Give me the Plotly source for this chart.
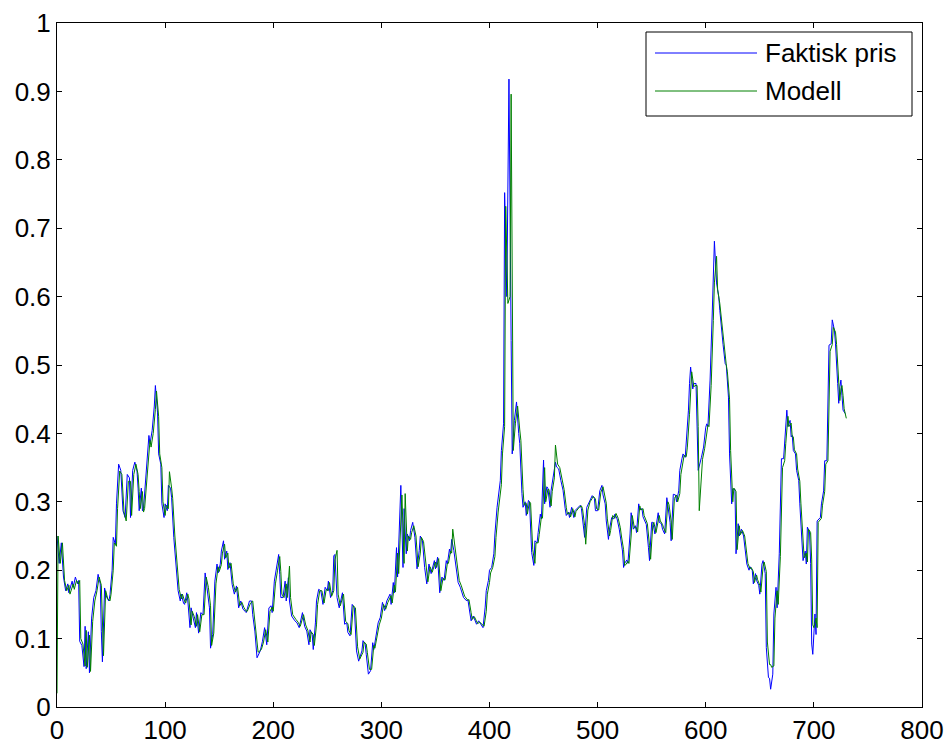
import plotly.graph_objects as go

actual_x = [0, 2, 4, 6, 8, 10, 11, 14, 15, 17, 19, 20, 21, 23, 25, 26, 27, 29, 30, 32, 34, 36, 38, 40, 41, 42, 44, 46, 48, 49,
            51, 52, 54, 55, 57, 59, 61, 63, 65, 67, 68, 70, 72, 74, 75, 76, 78, 79, 80, 83, 85, 86, 88, 90, 91, 93, 94, 96, 97, 99,
            100, 102, 103, 105, 106, 108, 110, 112, 114, 115, 117, 118, 120, 121, 123, 124, 126, 128, 129, 131, 133, 135, 137, 139,
            141, 142, 144, 146, 148, 149, 151, 152, 154, 155, 157, 158, 160, 162, 164, 166, 168, 170, 172, 174, 175, 178, 180, 181,
            183, 185, 188, 190, 192, 194, 196, 198, 199, 201, 203, 205, 206, 207, 209, 211, 212, 214, 215, 217, 220, 222, 224, 227,
            229, 231, 233, 234, 236, 237, 239, 240, 242, 244, 246, 248, 250, 251, 253, 255, 256, 257, 259, 261, 264, 266, 268, 269,
            271, 273, 275, 277, 279, 282, 283, 285, 286, 288, 290, 292, 293, 295, 297, 299, 301, 303, 305, 308, 309, 311, 312, 314,
            315, 318, 320, 321, 323, 324, 326, 327, 329, 331, 333, 335, 336, 338, 340, 342, 344, 346, 349, 350, 352, 354, 356, 358,
            360, 361, 363, 364, 365, 367, 369, 371, 373, 376, 379, 380, 382, 383, 385, 388, 390, 393, 394, 396, 397, 399, 400, 402,
            404, 405, 407, 410, 411, 413, 414, 416, 418, 420, 421, 423, 425, 427, 428, 430, 431, 433, 434, 436, 437, 439, 441, 442,
            444, 445, 447, 448, 450, 451, 453, 454, 456, 457, 459, 461, 462, 464, 466, 468, 470, 471, 473, 474, 476, 478, 479, 481,
            482, 484, 485, 487, 488, 490, 492, 494, 495, 497, 498, 500, 502, 504, 505, 507, 508, 510, 511, 513, 515, 516, 518, 520,
            521, 523, 524, 525, 527, 528, 530, 531, 533, 535, 536, 538, 539, 541, 542, 545, 547, 548, 550, 551, 553, 554, 556, 557,
            559, 560, 562, 564, 565, 567, 568, 570, 572, 573, 575, 576, 578, 579, 581, 582, 584, 585, 586, 588, 589, 591, 592, 593,
            596, 598, 600, 601, 602, 604, 606, 608, 610, 612, 613, 615, 616, 618, 619, 621, 622, 624, 625, 627, 628, 630, 631, 633,
            635, 638, 640, 641, 643, 644, 646, 647, 649, 650, 652, 653, 655, 656, 658, 659, 660, 662, 663, 665, 666, 668, 670, 672,
            673, 675, 676, 678, 679, 680, 681, 683, 684, 686, 687, 689, 690, 692, 693, 694, 696, 697, 698, 699, 701, 702, 703, 706,
            707, 709, 710, 712, 713, 714, 716, 717, 719, 720, 722, 723, 724, 725, 726, 727, 729]
actual_y = [0.25, 0.21, 0.24, 0.19, 0.17, 0.18, 0.167, 0.184, 0.175, 0.19, 0.18, 0.185, 0.096, 0.09, 0.059, 0.118, 0.056, 0.11, 0.05, 0.13,
            0.16, 0.17, 0.194, 0.18, 0.11, 0.066, 0.174, 0.16, 0.155, 0.164, 0.20, 0.248, 0.238, 0.297, 0.355, 0.346, 0.287, 0.277,
            0.34, 0.335, 0.277, 0.346, 0.358, 0.345, 0.32, 0.287, 0.32, 0.287, 0.29, 0.36, 0.397, 0.385, 0.404, 0.44, 0.47, 0.43,
            0.37, 0.355, 0.297, 0.277, 0.297, 0.287, 0.324, 0.32, 0.306, 0.248, 0.213, 0.17, 0.155, 0.165, 0.152, 0.15, 0.167, 0.155,
            0.116, 0.145, 0.13, 0.116, 0.138, 0.108, 0.138, 0.135, 0.196, 0.174, 0.145, 0.086, 0.106, 0.184, 0.209, 0.196, 0.209,
            0.228, 0.243, 0.216, 0.228, 0.201, 0.211, 0.179, 0.165, 0.177, 0.145, 0.155, 0.143, 0.14, 0.138, 0.155, 0.155, 0.135,
            0.111, 0.072, 0.082, 0.096, 0.116, 0.091, 0.145, 0.148, 0.138, 0.184, 0.204, 0.223, 0.194, 0.16, 0.16, 0.184, 0.155,
            0.189, 0.155, 0.133, 0.126, 0.123, 0.116, 0.138, 0.118, 0.111, 0.091, 0.113, 0.106, 0.084, 0.123, 0.155, 0.172, 0.17,
            0.15, 0.175, 0.17, 0.184, 0.16, 0.17, 0.221, 0.223, 0.16, 0.145, 0.167, 0.121, 0.123, 0.109, 0.104, 0.15, 0.145, 0.082,
            0.067, 0.082, 0.097, 0.092, 0.077, 0.048, 0.053, 0.094, 0.084, 0.104, 0.123, 0.131, 0.153, 0.141, 0.155, 0.165, 0.15,
            0.182, 0.167, 0.233, 0.19, 0.324, 0.204, 0.29, 0.224, 0.253, 0.243, 0.258, 0.27, 0.248, 0.202, 0.229, 0.25, 0.243, 0.204,
            0.18, 0.209, 0.195, 0.214, 0.202, 0.219, 0.167, 0.19, 0.185, 0.214, 0.209, 0.231, 0.224, 0.245, 0.229, 0.209, 0.182,
            0.175, 0.16, 0.155, 0.157, 0.136, 0.126, 0.133, 0.121, 0.126, 0.119, 0.116, 0.146, 0.17, 0.185, 0.2, 0.204, 0.224, 0.253,
            0.292, 0.331, 0.375, 0.414, 0.752, 0.60, 0.918, 0.536, 0.37, 0.419, 0.446, 0.40, 0.385, 0.312, 0.292, 0.30, 0.28, 0.302,
            0.30, 0.226, 0.207, 0.243, 0.24, 0.255, 0.282, 0.275, 0.361, 0.297, 0.322, 0.32, 0.292, 0.317, 0.336, 0.358, 0.351,
            0.348, 0.331, 0.317, 0.29, 0.28, 0.285, 0.277, 0.292, 0.277, 0.287, 0.29, 0.292, 0.295, 0.29, 0.263, 0.248, 0.292, 0.30,
            0.307, 0.309, 0.305, 0.287, 0.287, 0.316, 0.324, 0.31, 0.297, 0.272, 0.245, 0.26, 0.277, 0.275, 0.282, 0.275, 0.26,
            0.248, 0.228, 0.204, 0.21, 0.215, 0.21, 0.253, 0.284, 0.26, 0.265, 0.255, 0.297, 0.288, 0.29, 0.278, 0.267, 0.233, 0.214,
            0.27, 0.27, 0.253, 0.263, 0.284, 0.27, 0.268, 0.26, 0.253, 0.306, 0.296, 0.27, 0.243, 0.311, 0.31, 0.30, 0.316, 0.346,
            0.363, 0.37, 0.365, 0.385, 0.434, 0.473, 0.497, 0.465, 0.473, 0.473, 0.404, 0.346, 0.365, 0.38, 0.409, 0.414, 0.41,
            0.478, 0.576, 0.681, 0.62, 0.60, 0.58, 0.537, 0.53, 0.502, 0.50, 0.453, 0.37, 0.297, 0.319, 0.318, 0.224, 0.268, 0.25,
            0.26, 0.25, 0.209, 0.2, 0.205, 0.2, 0.18, 0.195, 0.185, 0.178, 0.165, 0.209, 0.214, 0.195, 0.087, 0.043, 0.042, 0.026,
            0.048, 0.136, 0.175, 0.145, 0.224, 0.363, 0.363, 0.39, 0.434, 0.41, 0.419, 0.395, 0.397, 0.375, 0.37, 0.346, 0.331,
            0.297, 0.243, 0.214, 0.228, 0.209, 0.263, 0.256, 0.21, 0.092, 0.077, 0.136, 0.106, 0.272, 0.277, 0.297, 0.316, 0.36,
            0.36, 0.439, 0.529, 0.531, 0.566, 0.551, 0.531, 0.473, 0.444, 0.468, 0.478, 0.455, 0.434, 0.429]

# Modell - vertices
model_x = [0, 1, 3, 5, 7, 9, 11, 12, 15, 16, 18, 20, 21, 22, 24, 26, 27, 28, 30, 31, 33, 35, 37, 39, 41, 42, 43, 45, 47, 49,
           50, 52, 53, 55, 56, 58, 60, 62, 64, 66, 68, 69, 71, 73, 75, 76, 77, 79, 80, 81, 84, 86, 87, 89, 91, 92, 94, 95, 97, 98,
           100, 101, 103, 104, 106, 107, 109, 111, 113, 115, 116, 118, 119, 121, 122, 124, 125, 127, 129, 130, 132, 134, 136, 138,
           140, 142, 143, 145, 147, 149, 150, 152, 153, 155, 156, 158, 159, 161, 163, 165, 167, 169, 171, 173, 175, 176, 179, 181,
           182, 184, 186, 189, 191, 193, 195, 197, 199, 200, 202, 204, 206, 207, 208, 210, 212, 213, 215, 216, 218, 221, 223, 225,
           228, 230, 232, 234, 235, 237, 238, 240, 241, 243, 245, 247, 249, 251, 252, 254, 256, 257, 259, 260, 262, 265, 267, 269,
           270, 272, 274, 276, 278, 280, 283, 284, 286, 287, 289, 291, 293, 294, 296, 298, 300, 302, 304, 306, 309, 310, 312, 313,
           315, 316, 319, 321, 322, 324, 325, 327, 328, 330, 332, 334, 336, 337, 339, 341, 343, 345, 347, 350, 351, 353, 355, 357,
           359, 361, 362, 364, 365, 366, 368, 370, 372, 374, 377, 380, 381, 383, 384, 386, 389, 391, 394, 395, 397, 398, 400, 401,
           403, 405, 406, 408, 411, 412, 414, 415, 417, 419, 420, 421, 422, 424, 426, 428, 429, 431, 432, 434, 435, 437, 438, 440,
           442, 443, 445, 446, 448, 449, 451, 452, 454, 455, 457, 458, 460, 461, 463, 465, 467, 469, 471, 472, 474, 475, 477, 479,
           480, 482, 483, 485, 486, 488, 489, 491, 493, 495, 496, 498, 499, 501, 503, 505, 506, 508, 509, 511, 512, 514, 516, 517,
           519, 521, 522, 524, 525, 526, 528, 529, 531, 532, 534, 536, 537, 539, 540, 542, 543, 546, 548, 549, 551, 552, 554, 555,
           557, 558, 560, 561, 563, 565, 566, 568, 569, 571, 573, 574, 576, 577, 579, 580, 582, 583, 585, 586, 587, 589, 590, 592,
           593, 594, 596, 597, 599, 601, 602, 603, 605, 607, 608, 610, 611, 613, 614, 616, 617, 619, 620, 622, 623, 625, 626, 628,
           629, 631, 632, 634, 636, 639, 641, 642, 644, 645, 647, 648, 650, 651, 653, 654, 656, 657, 659, 660, 661, 663, 664, 666,
           667, 669, 671, 673, 674, 676, 677, 679, 680, 681, 682, 684, 685, 687, 688, 690, 691, 693, 694, 695, 697, 698, 699, 700,
           702, 703, 704, 707, 708, 710, 711, 713, 714, 715, 717, 718, 720, 721, 723, 724, 725, 726, 727, 728, 730]
model_y = [0.02, 0.25, 0.21, 0.24, 0.185, 0.17, 0.178, 0.165, 0.18, 0.172, 0.185, 0.18, 0.185, 0.1, 0.092, 0.06, 0.112, 0.058, 0.105,
           0.052, 0.125, 0.155, 0.17, 0.19, 0.178, 0.115, 0.075, 0.17, 0.158, 0.155, 0.165, 0.2, 0.24, 0.235, 0.29, 0.345, 0.34,
           0.285, 0.272, 0.33, 0.33, 0.28, 0.34, 0.355, 0.34, 0.315, 0.29, 0.315, 0.285, 0.29, 0.355, 0.39, 0.38, 0.4, 0.435, 0.462,
           0.425, 0.37, 0.35, 0.3, 0.28, 0.295, 0.29, 0.344, 0.32, 0.305, 0.25, 0.215, 0.172, 0.158, 0.165, 0.155, 0.152, 0.165,
           0.158, 0.12, 0.14, 0.132, 0.118, 0.135, 0.11, 0.135, 0.135, 0.19, 0.175, 0.148, 0.09, 0.108, 0.18, 0.205, 0.198, 0.208,
           0.225, 0.238, 0.218, 0.225, 0.203, 0.21, 0.18, 0.168, 0.175, 0.148, 0.153, 0.145, 0.14, 0.14, 0.152, 0.155, 0.138, 0.115,
           0.08, 0.084, 0.095, 0.113, 0.095, 0.14, 0.146, 0.14, 0.18, 0.2, 0.22, 0.198, 0.165, 0.16, 0.18, 0.16, 0.206, 0.16, 0.135,
           0.128, 0.124, 0.118, 0.135, 0.12, 0.112, 0.095, 0.11, 0.106, 0.09, 0.12, 0.15, 0.17, 0.17, 0.152, 0.172, 0.17, 0.182,
           0.162, 0.17, 0.215, 0.229, 0.165, 0.148, 0.165, 0.125, 0.122, 0.112, 0.106, 0.148, 0.145, 0.088, 0.07, 0.08, 0.095,
           0.092, 0.08, 0.055, 0.055, 0.09, 0.086, 0.102, 0.12, 0.13, 0.15, 0.143, 0.153, 0.163, 0.152, 0.178, 0.168, 0.225, 0.195,
           0.31, 0.21, 0.312, 0.228, 0.25, 0.245, 0.255, 0.265, 0.25, 0.205, 0.225, 0.248, 0.242, 0.208, 0.183, 0.205, 0.197, 0.212,
           0.204, 0.217, 0.17, 0.188, 0.186, 0.21, 0.21, 0.228, 0.225, 0.26, 0.232, 0.21, 0.185, 0.177, 0.162, 0.156, 0.157, 0.138,
           0.128, 0.132, 0.122, 0.124, 0.12, 0.118, 0.14, 0.165, 0.182, 0.196, 0.204, 0.22, 0.248, 0.285, 0.325, 0.37, 0.41, 0.732,
           0.59, 0.60, 0.896, 0.53, 0.375, 0.415, 0.44, 0.405, 0.39, 0.318, 0.295, 0.298, 0.282, 0.3, 0.298, 0.23, 0.21, 0.24, 0.24,
           0.252, 0.278, 0.276, 0.35, 0.3, 0.318, 0.318, 0.294, 0.315, 0.335, 0.383, 0.355, 0.35, 0.333, 0.318, 0.292, 0.282, 0.284,
           0.278, 0.29, 0.278, 0.286, 0.29, 0.292, 0.294, 0.29, 0.265, 0.238, 0.288, 0.3, 0.305, 0.308, 0.304, 0.29, 0.288, 0.314,
           0.322, 0.312, 0.298, 0.275, 0.25, 0.258, 0.28, 0.276, 0.283, 0.276, 0.262, 0.25, 0.23, 0.207, 0.208, 0.213, 0.21, 0.25,
           0.28, 0.262, 0.262, 0.256, 0.294, 0.288, 0.29, 0.28, 0.268, 0.236, 0.216, 0.266, 0.27, 0.255, 0.262, 0.28, 0.272, 0.267,
           0.262, 0.255, 0.3, 0.296, 0.272, 0.245, 0.305, 0.31, 0.3, 0.312, 0.34, 0.36, 0.368, 0.366, 0.38, 0.428, 0.465, 0.49,
           0.468, 0.47, 0.47, 0.41, 0.287, 0.35, 0.362, 0.378, 0.405, 0.412, 0.41, 0.47, 0.565, 0.62, 0.659, 0.61, 0.59, 0.575,
           0.535, 0.525, 0.5, 0.49, 0.45, 0.375, 0.3, 0.32, 0.315, 0.23, 0.265, 0.252, 0.258, 0.25, 0.21, 0.202, 0.204, 0.198,
           0.182, 0.193, 0.186, 0.178, 0.168, 0.205, 0.212, 0.198, 0.095, 0.062, 0.062, 0.058, 0.06, 0.13, 0.17, 0.15, 0.22, 0.35,
           0.36, 0.385, 0.425, 0.41, 0.415, 0.395, 0.395, 0.376, 0.37, 0.348, 0.33, 0.298, 0.245, 0.218, 0.225, 0.212, 0.26, 0.255,
           0.215, 0.12, 0.116, 0.13, 0.116, 0.27, 0.276, 0.295, 0.315, 0.355, 0.36, 0.43, 0.52, 0.53, 0.555, 0.548, 0.53, 0.475,
           0.448, 0.465, 0.47, 0.455, 0.436, 0.422]

legend_labels = ["Faktisk pris", "Modell"]
x_ticks = [0, 100, 200, 300, 400, 500, 600, 700, 800]
y_ticks = [0, 0.1, 0.2, 0.3, 0.4, 0.5, 0.6, 0.7, 0.8, 0.9, 1]

BLUE = "rgb(0,0,255)"
GREEN = "rgb(0,128,0)"
FONT = "Liberation Sans, Arial, sans-serif"
FS = 26

fig = go.Figure()
fig.add_trace(go.Scatter(x=actual_x, y=actual_y, mode="lines", name=legend_labels[0],
                         line=dict(color=BLUE, width=1)))
fig.add_trace(go.Scatter(x=model_x, y=model_y, mode="lines", name=legend_labels[1],
                         line=dict(color=GREEN, width=1)))

axis_common = dict(showline=True, linecolor="black", linewidth=1, mirror="ticks",
                   ticks="inside", ticklen=5, tickcolor="black", tickwidth=1,
                   showgrid=False, zeroline=False, automargin=False,
                   tickfont=dict(family=FONT, size=FS, color="black"))

fig.update_xaxes(range=[0, 800], tickvals=x_ticks, ticktext=[str(v) for v in x_ticks], **axis_common)
fig.update_yaxes(range=[0, 1], tickvals=y_ticks, ticktext=[("%g" % v) for v in y_ticks], **axis_common)

# Legend box drawn in paper coordinates (MATLAB-style long line samples)
W, H, L, T = 952, 745, 57, 23
PW, PH = 865, 684
def px(xp):
    return (xp - L) / PW
def py(yp):
    return (T + PH - yp) / PH

shapes = [dict(type="rect", xref="paper", yref="paper", x0=px(646), x1=px(912), y0=py(116), y1=py(32),
               line=dict(color="black", width=1), fillcolor="white", layer="above")]
for i, col in enumerate([BLUE, GREEN]):
    yy = [53, 91][i]
    shapes.append(dict(type="line", xref="paper", yref="paper", x0=px(655), x1=px(757), y0=py(yy), y1=py(yy),
                       line=dict(color=col, width=1), layer="above"))
annotations = []
for i, lab in enumerate(legend_labels):
    yy = [53, 91][i]
    annotations.append(dict(xref="paper", yref="paper", x=px(763), y=py(yy), text=lab, showarrow=False,
                            xanchor="left", yanchor="middle",
                            font=dict(family=FONT, size=FS, color="black")))

fig.update_layout(width=W, height=H, margin=dict(l=L, r=W - L - PW, t=T, b=H - T - PH, autoexpand=False),
                  plot_bgcolor="white", paper_bgcolor="white", showlegend=False,
                  shapes=shapes, annotations=annotations)

fig.write_html("out.html", config={"displayModeBar": False},
               post_script="document.body.style.margin='0';document.body.style.overflow='hidden';")
